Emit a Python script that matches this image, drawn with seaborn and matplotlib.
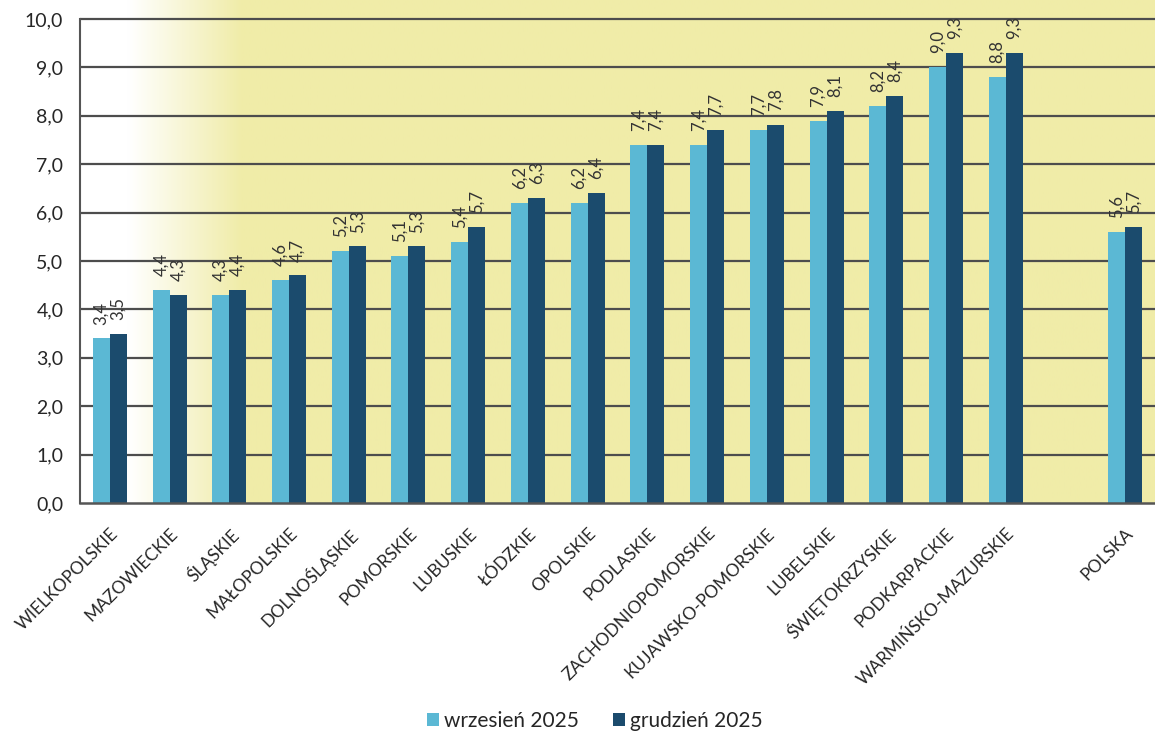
import numpy as np
import pandas as pd
import matplotlib
matplotlib.use('Agg')
import matplotlib.pyplot as plt
import matplotlib.transforms as mtransforms
import seaborn as sns

regions = ['WIELKOPOLSKIE', 'MAZOWIECKIE', 'ŚLĄSKIE', 'MAŁOPOLSKIE', 'DOLNOŚLĄSKIE',
           'POMORSKIE', 'LUBUSKIE', 'ŁÓDZKIE', 'OPOLSKIE', 'PODLASKIE',
           'ZACHODNIOPOMORSKIE', 'KUJAWSKO-POMORSKIE', 'LUBELSKIE', 'ŚWIĘTOKRZYSKIE',
           'PODKARPACKIE', 'WARMIŃSKO-MAZURSKIE', 'POLSKA']
wrzesien = [3.4, 4.4, 4.3, 4.6, 5.2, 5.1, 5.4, 6.2, 6.2, 7.4, 7.4, 7.7, 7.9, 8.2, 9.0, 8.8, 5.6]
grudzien = [3.5, 4.3, 4.4, 4.7, 5.3, 5.3, 5.7, 6.3, 6.4, 7.4, 7.7, 7.8, 8.1, 8.4, 9.3, 9.3, 5.7]
series = ['wrzesień 2025', 'grudzień 2025']

# empty slot before POLSKA
order = regions[:-1] + [' '] + regions[-1:]

df = pd.DataFrame({'region': regions * 2,
                   'okres': [series[0]] * len(regions) + [series[1]] * len(regions),
                   'stopa': wrzesien + grudzien})

sns.set_style('white')
plt.rcParams['font.family'] = ['Lato', 'DejaVu Sans']

fig = plt.figure(figsize=(11.55, 7.44), dpi=100)
ax = fig.add_axes([80 / 1155, 241 / 744, 1 - 80 / 1155, 503 / 744])

# background: white on the left fading to yellow
xs = np.linspace(0, 1, 600)
t = np.clip((xs - 0.045) / 0.105, 0, 1)
white = np.array([1.0, 1.0, 1.0])
yellow = np.array([240, 236, 168]) / 255
grad = white[None, :] * (1 - t[:, None]) + yellow[None, :] * t[:, None]
ax.imshow(grad[None, :, :], extent=[0, 1, 0, 1], transform=ax.transAxes,
          aspect='auto', zorder=-2)

sns.barplot(data=df, x='region', y='stopa', hue='okres', order=order,
            hue_order=series, palette=['#5bb8d4', '#1b4b6d'], width=0.57,
            saturation=1, linewidth=0, ax=ax, zorder=2)

for cont in ax.containers:
    ax.bar_label(cont, fmt=lambda v: f'{v:.1f}'.replace('.', ','), rotation=90,
                 padding=10, fontsize=12, color='#333333')

ax.set_xlim(-0.5, 17.36)
ax.set_ylim(0, 10.39)
ax.set_yticks(np.arange(0, 11, 1))
ax.set_yticklabels([f'{v:.1f}'.replace('.', ',') for v in range(11)], fontsize=14)
ax.set_xticks(range(len(order)))
ax.set_xticklabels(order, rotation=45, ha='right', rotation_mode='anchor', fontsize=12.5)
shift = mtransforms.ScaledTranslation(-8 / 100, 0, fig.dpi_scale_trans)
for lab in ax.get_xticklabels():
    lab.set_transform(lab.get_transform() + shift)
ax.set_xticks(np.arange(-0.5, 18, 1), minor=True)
ax.tick_params(axis='x', which='major', length=0, pad=16)
ax.tick_params(axis='x', which='minor', length=6, width=1.3, color='#555555', direction='out')
ax.tick_params(axis='y', length=7, width=1.3, color='#555555', direction='out', pad=5)
ax.set_xlabel('')
ax.set_ylabel('')

for v in range(1, 11):
    ax.axhline(v, color='#4d4d4d', lw=1.6, zorder=1)

for s in ['top', 'right']:
    ax.spines[s].set_visible(False)
ax.spines['left'].set_bounds(0, 10)
ax.spines['left'].set_color('#555555')
ax.spines['left'].set_linewidth(1.5)
ax.spines['bottom'].set_color('#555555')
ax.spines['bottom'].set_linewidth(1.8)

handles, labels = ax.get_legend_handles_labels()
ax.get_legend().remove()
fig.legend(handles, labels, loc='lower center', bbox_to_anchor=(0.515, -0.008), ncol=2,
           frameon=False, fontsize=15, handlelength=0.6, handleheight=0.6,
           handletextpad=0.25, columnspacing=1.6)

fig.savefig('out.png', dpi=100)
